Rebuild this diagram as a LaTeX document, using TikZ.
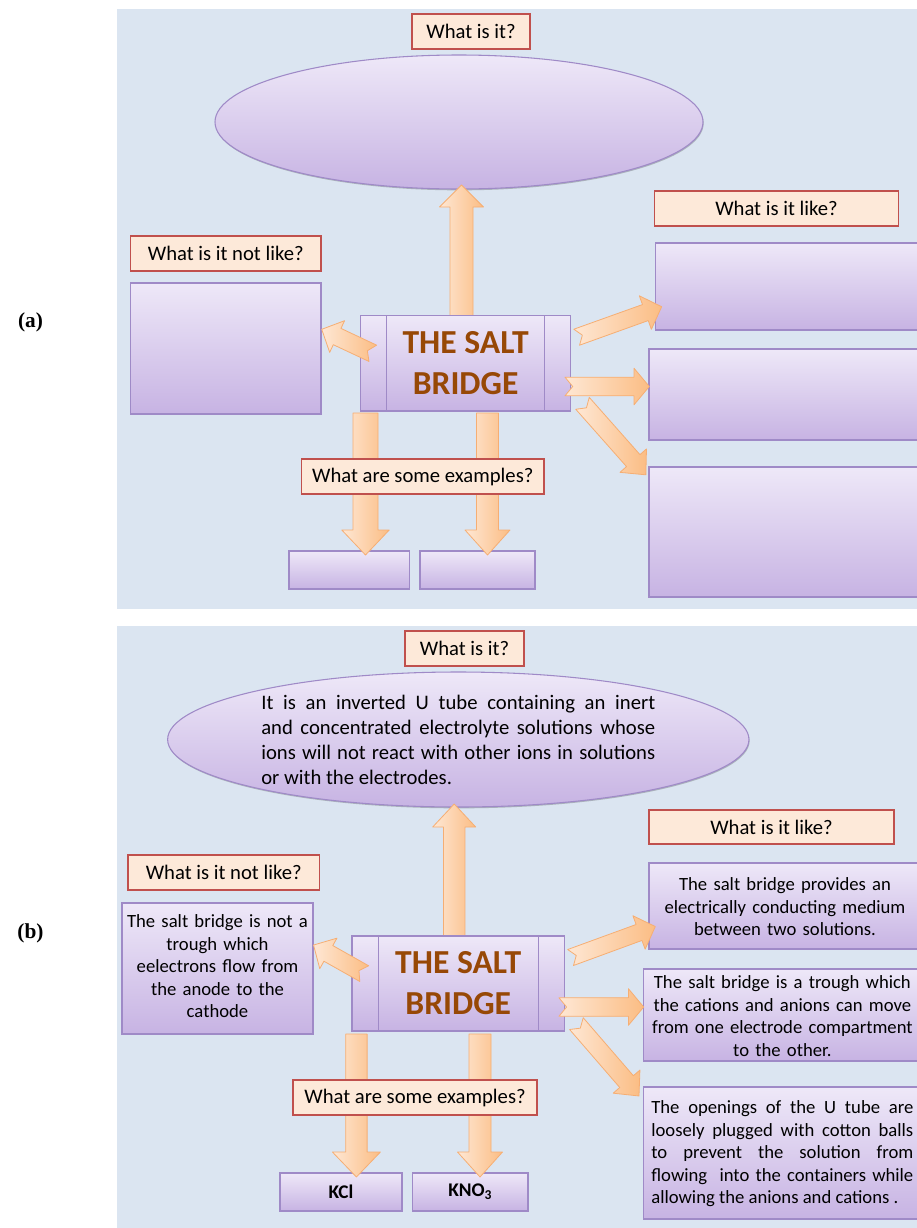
\documentclass[tikz,border=0pt]{standalone}
\usepackage{fontspec}
\setmainfont{Carlito}
\newfontfamily\labfont{Liberation Serif}
\usetikzlibrary{shapes.geometric,shadows,calc}
\tolerance=9999
\hbadness=10000
\definecolor{bgc}{HTML}{DBE5F1}
\definecolor{boxtop}{HTML}{EEE8F8}
\definecolor{boxbot}{HTML}{C7B3E3}
\definecolor{boxline}{HTML}{9F8AC7}
\definecolor{qfill}{HTML}{FDE9D9}
\definecolor{qline}{HTML}{C0504D}
\definecolor{arrtail}{HTML}{FEE7D4}
\definecolor{arrtip}{HTML}{FBBD84}
\definecolor{arrline}{HTML}{F6AE73}
\definecolor{titlec}{HTML}{974806}
\tikzset{
  panel/.style={fill=bgc, inner sep=0pt},
  pbox/.style={draw=boxline, line width=0.8pt, top color=boxtop, bottom color=boxbot, inner sep=0pt,
    drop shadow={shadow xshift=0.5pt, shadow yshift=-1pt, fill=black, opacity=0.22}},
  ell/.style={ellipse, draw=boxline, line width=0.8pt, top color=boxtop, bottom color=boxbot, inner sep=0pt,
    drop shadow={shadow xshift=0.5pt, shadow yshift=-1pt, fill=black, opacity=0.22}},
  qbox/.style={draw=qline, line width=1.2pt, fill=qfill, inner sep=0pt, font=\fontsize{15.5}{18}\selectfont},
  btxt/.style={font=\fontsize{14}{16.9}\selectfont, align=center},
  etxt/.style={font=\fontsize{15.5}{18.75}\selectfont, align=justify, text width=295.5pt},
  ttl/.style={font=\fontsize{25.2}{30.75}\selectfont\bfseries, text=titlec, align=center},
  arr/.style={draw=arrline, line width=0.6pt, left color=arrtail, right color=arrtip, line join=round},
  inl/.style={draw=boxline, line width=0.8pt},
  lab/.style={font=\labfont\fontsize{16}{18}\selectfont\bfseries}
}
% rectangle node by corners (px): #1 style, #2 x1, #3 y1, #4 x2, #5 y2, #6 name, #7 text
\newcommand\rnode[7]{\node[#1, minimum width={(#4-#2)*0.75pt}, minimum height={(#5-#3)*0.75pt}] (#6) at ({(#2+#4)/2},{(#3+#5)/2}) {#7};}
% block arrow from coordinate #1 to coordinate #2
% #3 shaft half width, #4 head half width, #5 head length, #6 notch depth (px)
\newcommand\blockarr[6]{%
  \pgfmathanglebetweenpoints{\pgfpointanchor{#1}{center}}{\pgfpointanchor{#2}{center}}%
  \let\bAng\pgfmathresult
  \pgfpointdiff{\pgfpointanchor{#1}{center}}{\pgfpointanchor{#2}{center}}%
  \pgfgetlastxy{\bDx}{\bDy}%
  \pgfmathsetmacro\bLen{veclen(\bDx,\bDy)}%
  \pgfmathsetmacro\bSw{#3*0.75}%
  \pgfmathsetmacro\bHw{#4*0.75}%
  \pgfmathsetmacro\bHl{\bLen-#5*0.75}%
  \pgfmathsetmacro\bNt{#6*0.75}%
  \begin{scope}[shift={(#1)}, rotate=\bAng, x=1pt, y=1pt]
    \draw[arr] (0,\bSw) -- (\bHl,\bSw) -- (\bHl,\bHw) -- (\bLen,0) -- (\bHl,-\bHw) -- (\bHl,-\bSw) -- (0,-\bSw) -- (\bNt,0) -- cycle;
  \end{scope}}
\begin{document}
\begin{tikzpicture}[x=0.75pt,y=-0.75pt]
\useasboundingbox (0,0) rectangle (917,1228);
\fill[white] (0,0) rectangle (917,1228);
\clip (0,0) rectangle (917,1228);

% ---------------- panel (a) ----------------
\rnode{panel}{117}{9}{922}{609}{panA}{}
\node[lab] (labA) at (30.5,322) {(a)};
\rnode{qbox}{412}{14}{530}{49}{qA1}{What is it?}
\node[ell, minimum width=366pt, minimum height=100.5pt] (ellA) at (459,122) {};
\rnode{qbox}{654.5}{191}{898.5}{226}{qA2}{What is it like?}
\rnode{qbox}{130.6}{236}{321}{271}{qA3}{What is it not like?}

\coordinate (aU0) at (461.5,316); \coordinate (aU1) at (461.5,185);
\blockarr{aU0}{aU1}{11.5}{22}{22}{0}

\rnode{pbox}{360.6}{315.7}{570.6}{411}{cA}{}
\draw[inl] ($(cA.north west)+(26.4,0)$) -- ($(cA.south west)+(26.4,0)$);
\draw[inl] ($(cA.north east)+(-26.6,0)$) -- ($(cA.south east)+(-26.6,0)$);
\node[ttl] (tA) at (cA.center) {THE SALT\\BRIDGE};

\rnode{pbox}{655.5}{243}{921}{330}{rA1}{}
\rnode{pbox}{649}{349}{921}{440}{rA2}{}
\rnode{pbox}{649}{467}{921}{597}{rA3}{}
\rnode{pbox}{130.6}{283}{321}{414}{lA}{}
\rnode{pbox}{289}{551}{409.5}{589}{bA1}{}
\rnode{pbox}{420}{551}{535}{589}{bA2}{}

\coordinate (aL0) at (372.8,353.3); \coordinate (aL1) at (321.7,329.3);
\blockarr{aL0}{aL1}{9}{17.5}{17}{6}
\coordinate (aR10) at (576.7,337.2); \coordinate (aR11) at (661.7,306.7);
\blockarr{aR10}{aR11}{8.5}{17.8}{17.3}{6}
\coordinate (aR20) at (565,386.5); \coordinate (aR21) at (649.3,386.5);
\blockarr{aR20}{aR21}{9.3}{18.3}{15.3}{7.7}
\coordinate (aR30) at (582.5,403.3); \coordinate (aR31) at (646,475);
\blockarr{aR30}{aR31}{9}{17.7}{19}{6}
\coordinate (aD10) at (365.5,413); \coordinate (aD11) at (365.5,555);
\blockarr{aD10}{aD11}{12.5}{23.7}{25}{0}
\coordinate (aD20) at (487.5,413); \coordinate (aD21) at (487.5,555);
\blockarr{aD20}{aD21}{11}{22.5}{25}{0}
\rnode{qbox}{301.5}{459}{544}{494}{qA4}{What are some examples?}

% ---------------- panel (b) ----------------
\rnode{panel}{117}{626}{922}{1232}{panB}{}
\node[lab] (labB) at (30.5,933) {(b)};
\rnode{qbox}{405}{631}{524}{666}{qB1}{What is it?}
\node[ell, minimum width=436pt, minimum height=101.25pt] (ellB) at (458.3,739.5) {};
\node[etxt] (eB) at (ellB.center) {It is an inverted U tube containing an inert\linebreak and concentrated electrolyte solutions whose\linebreak ions will not react with other ions in solutions\linebreak or with the electrodes.};
\rnode{qbox}{649}{810}{894}{844}{qB2}{What is it like?}
\rnode{qbox}{128}{855}{319.5}{890}{qB3}{What is it not like?}

\coordinate (bU0) at (454.2,936); \coordinate (bU1) at (454.2,804);
\blockarr{bU0}{bU1}{10.75}{21.5}{23}{0}

\rnode{pbox}{352}{936}{564.5}{1031}{cB}{}
\draw[inl] ($(cB.north west)+(27,0)$) -- ($(cB.south west)+(27,0)$);
\draw[inl] ($(cB.north east)+(-26.5,0)$) -- ($(cB.south east)+(-26.5,0)$);
\node[ttl] (tB) at (cB.center) {THE SALT\\BRIDGE};

\rnode{pbox}{649}{863}{921}{949}{rB1}{}
\node[btxt, text width=200pt] (rB1t) at ($(rB1.center)+(0,1)$) {The salt bridge provides an\\electrically conducting medium\\between two solutions.};
\rnode{pbox}{643.7}{969}{921}{1061}{rB2}{}
\node[btxt, text width=205pt] (rB2t) at ($(rB2.center)+(0,1)$) {The salt bridge is a trough which\\the cations and anions can move\\from one electrode compartment\\to the other.};
\rnode{pbox}{643.7}{1087}{921}{1219}{rB3}{}
\node[btxt, align=justify, text width=196.5pt] (rB3t) at ($(rB3.center)+(0,1)$) {The openings of the U tube are\linebreak loosely plugged with cotton balls\linebreak to prevent the solution from\linebreak flowing\ \ into the containers while\linebreak allowing the anions and cations .};
\rnode{pbox}{122}{903}{313}{1034}{lB}{}
\node[btxt, text width=140pt] (lBt) at ($(lB.center)+(0,-2)$) {The salt bridge is not a\\trough which\\eelectrons flow from\\the anode to the\\cathode};
\rnode{pbox, font=\fontsize{14.5}{17}\selectfont\bfseries}{280}{1173}{402}{1211}{bB1}{KCl}
\rnode{pbox, font=\fontsize{14.5}{17}\selectfont\bfseries}{412.6}{1173}{528}{1211}{bB2}{KNO\textsubscript{3}}

\coordinate (bL0) at (364.2,973.6); \coordinate (bL1) at (313.5,945);
\blockarr{bL0}{bL1}{9}{17.5}{17}{6}
\coordinate (bR10) at (570.6,957.5); \coordinate (bR11) at (655.3,926.5);
\blockarr{bR10}{bR11}{8.5}{17.8}{17.3}{6}
\coordinate (bR20) at (558.9,1007); \coordinate (bR21) at (643.7,1007);
\blockarr{bR20}{bR21}{9.3}{18.3}{15.3}{7.7}
\coordinate (bR30) at (576.4,1023.6); \coordinate (bR31) at (639,1096);
\blockarr{bR30}{bR31}{9}{17.7}{19}{6}
\coordinate (bD10) at (356.4,1034); \coordinate (bD11) at (356.4,1177);
\blockarr{bD10}{bD11}{10.7}{24}{25}{0}
\coordinate (bD20) at (480,1034); \coordinate (bD21) at (480,1177);
\blockarr{bD20}{bD21}{11}{22.5}{25}{0}
\rnode{qbox}{293}{1080}{537}{1115}{qB4}{What are some examples?}
\end{tikzpicture}
\end{document}
